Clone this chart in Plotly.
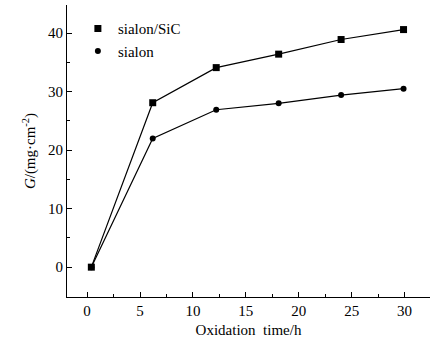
import plotly.graph_objects as go

time_sic = [0.4, 6.2, 12.2, 18.1, 24.0, 29.9]
g_sic = [0.0, 28.1, 34.1, 36.4, 38.9, 40.6]
time_sialon = [0.4, 6.2, 12.2, 18.1, 24.0, 29.9]
g_sialon = [0.0, 22.0, 26.9, 28.0, 29.4, 30.5]
series_names = ["sialon/SiC", "sialon"]

fig = go.Figure()
fig.add_trace(go.Scatter(x=time_sic, y=g_sic, mode="lines+markers", showlegend=False,
                         line=dict(color="black", width=1.2),
                         marker=dict(symbol="square", size=7, color="black")))
fig.add_trace(go.Scatter(x=time_sialon, y=g_sialon, mode="lines+markers", showlegend=False,
                         line=dict(color="black", width=1.2),
                         marker=dict(symbol="circle", size=6, color="black")))
# legend entries show only the marker, as in the reference
fig.add_trace(go.Scatter(x=[None], y=[None], mode="markers", name=series_names[0],
                         marker=dict(symbol="square", size=7, color="black")))
fig.add_trace(go.Scatter(x=[None], y=[None], mode="markers", name=series_names[1],
                         marker=dict(symbol="circle", size=6, color="black")))

font = dict(family="Liberation Serif, Times New Roman, serif", color="black", size=15)
fig.update_layout(
    width=433, height=345,
    margin=dict(l=67, r=3, t=5, b=48),
    plot_bgcolor="white", paper_bgcolor="white",
    font=font,
    showlegend=True,
    legend=dict(x=0.03, y=0.975, xanchor="left", yanchor="top", bgcolor="rgba(0,0,0,0)",
                font=dict(size=15), itemwidth=30, tracegroupgap=2),
)
fig.update_xaxes(range=[-1.9, 32.4], tickvals=[0, 5, 10, 15, 20, 25, 30],
                 showline=True, linecolor="black", linewidth=1.2, mirror=False,
                 ticks="inside", ticklen=5, tickcolor="black",
                 minor=dict(ticks="inside", ticklen=3, dtick=2.5, tick0=0, tickcolor="black"),
                 showgrid=False, zeroline=False,
                 title=dict(text="Oxidation  time/h", font=dict(size=15), standoff=6),
                 tickfont=dict(size=15))
fig.update_yaxes(range=[-5.1, 44.8], tickvals=[0, 10, 20, 30, 40],
                 showline=True, linecolor="black", linewidth=1.2, mirror=False,
                 ticks="inside", ticklen=5, tickcolor="black",
                 minor=dict(ticks="inside", ticklen=3, dtick=5, tick0=0, tickcolor="black"),
                 showgrid=False, zeroline=False,
                 title=dict(text="<i>G</i>/(mg·cm<sup>-2</sup>)", font=dict(size=15), standoff=8),
                 tickfont=dict(size=15))

fig.write_html("out.html")
